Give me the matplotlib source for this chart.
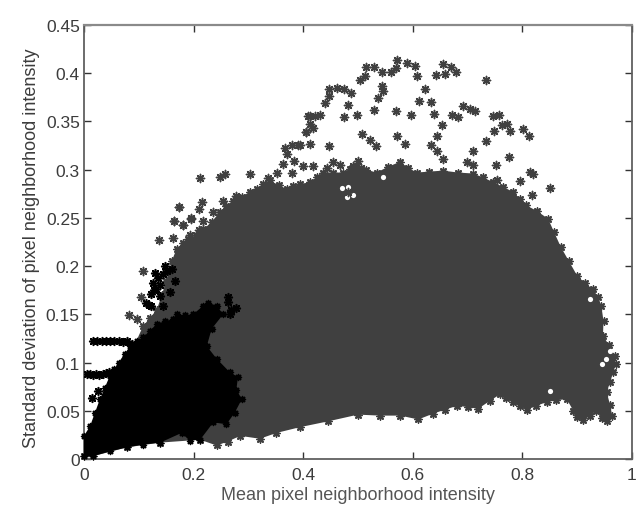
import matplotlib
matplotlib.use("Agg")
import matplotlib.pyplot as plt

plt.rcParams['font.family'] = ['Liberation Sans', 'DejaVu Sans']

# Outline of the solid dark-grey mass (read clockwise from the origin)
dark_x = [0.0,0.108,0.120,0.133,0.142,0.150,0.160,0.169,0.180,0.190,0.204,0.218,0.233,0.248,0.260,0.272,0.288,0.303,0.315,0.327,0.339,0.355,0.370,0.382,0.394,0.412,0.425,0.437,0.455,0.473,0.485,0.497,
          0.515,0.534,0.555,0.576,0.592,0.607,0.630,0.655,0.683,0.710,0.728,0.747,0.765,0.783,0.795,0.807,0.827,0.847,0.858,0.870,0.885,0.900,0.915,0.929,0.938,0.944,0.948,0.947,0.958,0.969,0.970,0.966,0.960,0.954,0.960,0.964,0.954,
          0.945,0.935,0.923,0.911,0.900,0.893,0.881,0.862,0.844,0.825,0.808,0.795,0.783,0.770,0.759,0.740,0.719,0.700,0.680,0.658,0.637,0.610,0.577,0.540,0.500,0.445,0.394,0.351,0.321,0.285,0.262,0.242,0.212,0.139,0.078,0.017]
dark_y = [0.003,0.138,0.146,0.155,0.170,0.185,0.205,0.218,0.224,0.228,0.232,0.238,0.246,0.256,0.262,0.268,0.272,0.277,0.280,0.285,0.289,0.284,0.280,0.283,0.285,0.287,0.292,0.297,0.297,0.297,0.301,0.304,
          0.300,0.297,0.303,0.308,0.302,0.297,0.298,0.299,0.297,0.296,0.292,0.287,0.282,0.277,0.270,0.263,0.257,0.249,0.235,0.220,0.205,0.190,0.182,0.176,0.168,0.159,0.143,0.128,0.118,0.107,0.098,0.090,0.080,0.069,0.056,0.045,0.039,
          0.043,0.050,0.045,0.040,0.044,0.050,0.062,0.061,0.059,0.055,0.051,0.055,0.059,0.063,0.067,0.060,0.052,0.054,0.055,0.051,0.047,0.041,0.045,0.045,0.046,0.039,0.033,0.027,0.021,0.024,0.018,0.014,0.020,0.017,0.012,0.003]

# Individually legible dark-grey stars
scatter_x = [0.572,0.589,0.604,0.608,0.514,0.529,0.543,0.561,0.570,0.513,0.503,0.543,0.545,0.536,0.622,0.655,0.669,0.678,0.643,0.658,
             0.733,0.447,0.461,0.474,0.487,0.447,0.440,0.482,0.611,0.633,0.529,0.570,0.475,0.499,0.596,0.638,0.671,0.683,0.692,0.704,
             0.714,0.747,0.758,0.772,0.762,0.777,0.748,0.801,0.812,0.654,0.644,0.634,0.644,0.655,0.734,0.710,0.776,0.698,0.710,0.751,
             0.813,0.820,0.796,0.753,0.851,0.817,0.508,0.522,0.532,0.572,0.586,0.447,0.413,0.394,0.406,0.418,0.413,0.412,0.430,0.421,
             0.455,0.467,0.500,0.491,0.506,0.418,0.400,0.443,0.212,0.248,0.257,0.303,0.336,0.352,0.364,0.383,0.367,0.379,0.391,0.370,
             0.406,0.409,0.215,0.209,0.173,0.196,0.164,0.181,0.235,0.253,0.278,0.379,0.137,0.162,0.165,0.181,0.174,0.082,0.097,0.108,0.104,
             0.196,0.209,0.193,0.218,0.482]
scatter_y = [0.414,0.411,0.407,0.397,0.406,0.406,0.401,0.401,0.405,0.397,0.393,0.387,0.382,0.374,0.384,0.410,0.406,0.401,0.398,0.399,
             0.393,0.384,0.385,0.384,0.380,0.376,0.369,0.367,0.371,0.370,0.362,0.361,0.355,0.357,0.357,0.358,0.357,0.355,0.366,0.363,
             0.361,0.356,0.357,0.347,0.346,0.340,0.340,0.342,0.335,0.346,0.335,0.326,0.319,0.311,0.330,0.319,0.313,0.308,0.305,0.305,
             0.298,0.296,0.288,0.289,0.281,0.274,0.337,0.331,0.325,0.335,0.327,0.325,0.327,0.326,0.339,0.343,0.347,0.356,0.357,0.356,
             0.308,0.305,0.309,0.304,0.302,0.304,0.304,0.302,0.291,0.292,0.295,0.296,0.291,0.297,0.306,0.309,0.322,0.326,0.326,0.316,
             0.339,0.356,0.266,0.259,0.261,0.250,0.247,0.243,0.256,0.267,0.273,0.297,0.227,0.229,0.247,0.243,0.261,0.149,0.145,0.195,0.168,
             0.249,0.237,0.232,0.247,0.277]

# Small gaps left inside the dark mass
gap_x = [0.482,0.546,0.923,0.953,0.850,0.480,0.470,0.490,0.960,0.945]
gap_y = [0.282,0.292,0.166,0.104,0.071,0.272,0.281,0.274,0.112,0.098]

# Outline of the solid black mass
black_x = [0.0,0.0,0.011,0.020,0.029,0.038,0.047,0.055,0.063,0.074,0.084,0.096,0.108,0.120,0.133,0.148,0.163,0.169,0.184,0.199,0.218,0.227,0.242,0.254,0.233,0.224,0.242,0.266,0.281,
           0.278,0.288,0.275,0.260,0.236,0.212,0.193,0.178,0.139,0.108,0.078,0.048,0.017]
black_y = [0.003,0.024,0.034,0.048,0.062,0.074,0.086,0.093,0.100,0.109,0.117,0.122,0.126,0.133,0.140,0.143,0.145,0.150,0.149,0.150,0.159,0.162,0.159,0.150,0.135,0.117,0.104,0.090,0.085,
           0.072,0.062,0.048,0.036,0.038,0.020,0.019,0.027,0.017,0.015,0.012,0.008,0.003]

# Individually legible black stars
black_pts_x = [0.017,0.024,0.032,0.040,0.047,0.055,0.063,0.071,0.078,0.087,0.005,0.011,0.017,0.022,0.028,0.035,0.041,0.046,0.056,0.263,0.263,0.269,0.278,0.266,
               0.148,0.145,0.152,0.130,0.126,0.123,0.139,0.114,0.118,0.123,0.145,0.157,0.166,0.160,0.139,0.132,0.135,0.128,0.015,0.025]
black_pts_y = [0.122,0.122,0.122,0.122,0.122,0.122,0.122,0.121,0.122,0.119,0.088,0.088,0.087,0.088,0.087,0.088,0.089,0.090,0.091,0.168,0.163,0.154,0.157,0.150,
               0.200,0.192,0.195,0.193,0.183,0.171,0.169,0.162,0.160,0.159,0.159,0.173,0.185,0.197,0.180,0.176,0.188,0.175,0.063,0.071]

x_ticks = [0, 0.2, 0.4, 0.6, 0.8, 1]
x_labels = ['0', '0.2', '0.4', '0.6', '0.8', '1']
y_ticks = [0, 0.05, 0.1, 0.15, 0.2, 0.25, 0.3, 0.35, 0.4, 0.45]
y_labels = ['0', '0.05', '0.1', '0.15', '0.2', '0.25', '0.3', '0.35', '0.4', '0.45']

GREY = '#404040'
TEXT = '#3c3c3c'
star = (8, 2, 0)

fig = plt.figure(figsize=(6.42, 5.10), dpi=100)
ax = fig.add_axes([84/642, 1-460/510, 548/642, 434/510])

ax.fill(dark_x, dark_y, color=GREY, lw=0, zorder=2)
ax.scatter(dark_x, dark_y, marker=star, s=26, color=GREY, linewidths=1.1, zorder=2, clip_on=False)
ax.scatter(gap_x, gap_y, marker='o', s=14, color='white', linewidths=0, zorder=2.1)
ax.scatter(scatter_x, scatter_y, marker=star, s=34, color=GREY, linewidths=1.1, zorder=2.2)
ax.fill(black_x, black_y, color='black', lw=0, zorder=3)
ax.scatter(black_x, black_y, marker=star, s=18, color='black', linewidths=1.1, zorder=3, clip_on=False)
ax.scatter(black_pts_x, black_pts_y, marker=star, s=30, color='black', linewidths=1.2, zorder=3)

ax.set_xlim(0, 1)
ax.set_ylim(0, 0.45)
ax.set_xticks(x_ticks, x_labels)
ax.set_yticks(y_ticks, y_labels)
ax.tick_params(direction='in', length=5, width=1, color='#333333', labelcolor=TEXT, labelsize=12.5,
               top=True, right=True, pad=3)
ax.tick_params(axis='x', pad=6)
for s in ax.spines.values():
    s.set_linewidth(1.3)
    s.set_color('#606060')
ax.spines['top'].set_color('#8a8a8a')
ax.spines['top'].set_linewidth(1.6)
ax.set_xlabel('Mean pixel neighborhood intensity', fontsize=13, color='#555555', labelpad=3)
ax.set_ylabel('Standard deviation of pixel neighborhood intensity', fontsize=13, color=TEXT, labelpad=3)
ax.yaxis.set_label_coords(-0.081, 0.488)

fig.savefig('out.png', dpi=100)
